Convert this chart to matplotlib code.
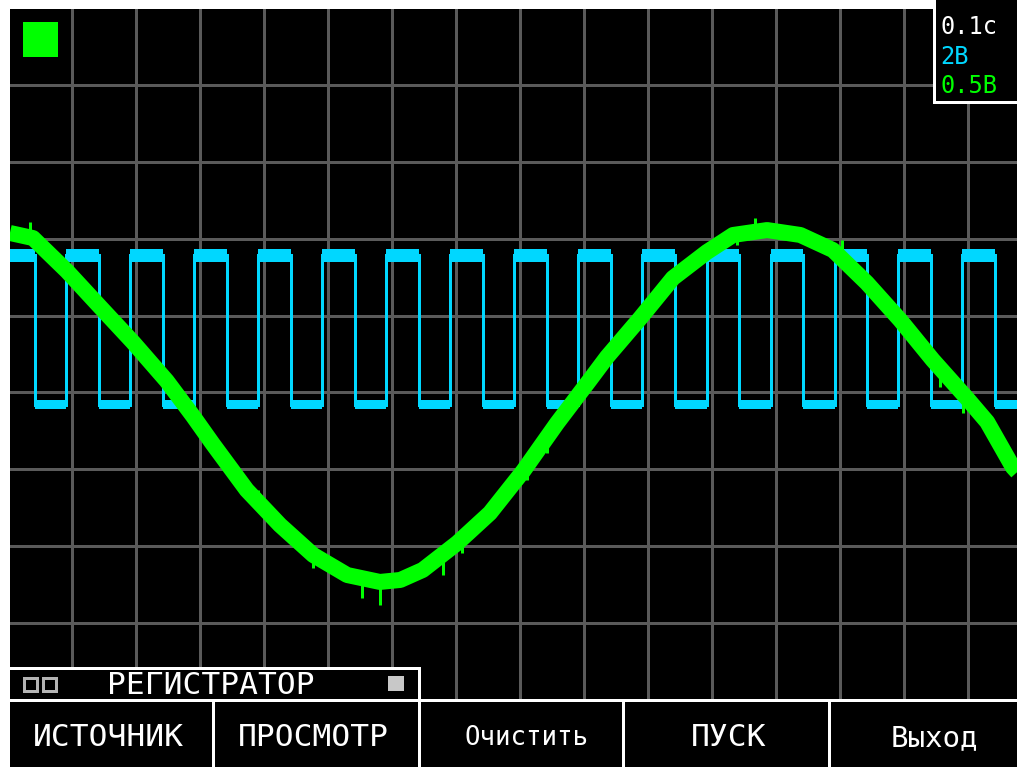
import matplotlib
matplotlib.use("Agg")
import matplotlib.pyplot as plt
from matplotlib.patches import Rectangle
import numpy as np

plt.rcParams.update({
    "font.family": "DejaVu Sans Mono",
    "savefig.facecolor": "white",
})

# --- data (time in s, channel values in volts) ---
green_t = [-0.097, -0.061, -0.008, 0.044, 0.095, 0.148, 0.189, 0.220, 0.273,
           0.325, 0.377, 0.430, 0.481, 0.513, 0.548, 0.602, 0.653, 0.705,
           0.758, 0.783, 0.809, 0.836, 0.888, 0.939, 0.992, 1.033, 1.086,
           1.138, 1.189, 1.242, 1.294, 1.345, 1.398, 1.430, 1.470, 1.477]
green_v = [1.112, 1.079, 0.865, 0.631, 0.403, 0.150, -0.078, -0.260, -0.559,
           -0.787, -0.982, -1.112, -1.157, -1.144, -1.079, -0.904, -0.709, -0.436,
           -0.124, 0.013, 0.156, 0.306, 0.559, 0.819, 0.988, 1.099, 1.131,
           1.099, 1.001, 0.787, 0.546, 0.286, 0.039, -0.117, -0.410, -0.442]

# noise spikes sticking out of the green trace
spike_t = [-0.066, 0.291, 0.377, 0.453, 0.481, 0.580, 0.609, 0.711, 0.742,
           0.914, 1.039, 1.067, 1.203, 1.356, 1.392]
spike_v = [1.183, -0.559, -1.066, -1.261, -1.307, -1.112, -0.969, -0.494, -0.319,
           0.631, 1.034, 1.209, 1.066, 0.111, -0.059]

# square wave edges (cyan channel)
cyan_fall = [-0.058, 0.042, 0.142, 0.242, 0.342, 0.442, 0.542, 0.642,
             0.742, 0.842, 0.942, 1.042, 1.142, 1.242, 1.342, 1.442]
cyan_rise = [-0.009, 0.091, 0.191, 0.291, 0.391, 0.491, 0.591, 0.691,
             0.791, 0.891, 0.992, 1.092, 1.192, 1.291, 1.391]
cyan_high = (3.70, 4.03)   # noisy band of the high level
cyan_low = (-0.13, 0.10)   # noisy band of the low level

time_div = "0.1с"
cyan_div = "2В"
green_div = "0.5В"
mode_title = "РЕГИСТРАТОР"
buttons = ["ИСТОЧНИК", "ПРОСМОТР", "Очистить", "ПУСК", "Выход"]

CYAN = "#00d7ff"
GREEN = "#00ff00"
GRID = "#5a5a5a"

W, H = 1017, 767
PX = 0.72  # points per pixel at 100 dpi


def frac(x0, y0, x1, y1):
    return [x0 / W, 1 - y1 / H, (x1 - x0) / W, (y1 - y0) / H]


fig = plt.figure(figsize=(W / 100, H / 100), dpi=100, facecolor="white")

# screen grid, y in divisions
ax = fig.add_axes(frac(10, 9, 1017, 700))
ax.set_facecolor("black")
ax.set_xlim(-62 / 640, 945 / 640)
ydiv_max = 691 / 76.9
ax.set_ylim(0, ydiv_max)
ax.set_xticks(np.arange(0, 1.45, 0.1))
ax.set_yticks(np.arange(1, 9))
ax.grid(True, color=GRID, lw=3 * PX)
ax.set_axisbelow(True)
ax.tick_params(length=0, labelbottom=False, labelleft=False)
for s in ax.spines.values():
    s.set_visible(False)

zero_div = (700 - 404) / 76.9


def channel_axes(volts_per_div):
    a = ax.twinx()
    a.set_ylim(-zero_div * volts_per_div, (ydiv_max - zero_div) * volts_per_div)
    a.axis("off")
    return a


# cyan channel: 2 V/div
ax_c = channel_axes(2.0)
x0, x1 = ax.get_xlim()
edges = sorted([(t, 0) for t in cyan_fall] + [(t, 1) for t in cyan_rise])
hi_mid = sum(cyan_high) / 2
lo_mid = sum(cyan_low) / 2
level = hi_mid
xs, ys = [x0], [level]
bounds = [x0]
for t, up in edges:
    new = hi_mid if up else lo_mid
    xs += [t, t]
    ys += [level, new]
    level = new
    bounds.append(t)
xs.append(x1)
ys.append(level)
bounds.append(x1)
ax_c.plot(xs, ys, color=CYAN, lw=3 * PX, solid_joinstyle="miter")
high = True
for a, b in zip(bounds[:-1], bounds[1:]):
    band = cyan_high if high else cyan_low
    ax_c.fill_between([a, b], band[0], band[1], color=CYAN, lw=0)
    high = not high

# green channel: 0.5 V/div
ax_g = channel_axes(0.5)
ax_g.plot(green_t, green_v, color=GREEN, lw=16 * PX,
          solid_capstyle="butt", solid_joinstyle="round")
base = np.interp(spike_t, green_t, green_v)
ax_g.vlines(spike_t, base, spike_v, color=GREEN, lw=3 * PX)

# overlay with the on-screen menu, in pixel coordinates
ui = fig.add_axes([0, 0, 1, 1])
ui.set_xlim(0, W)
ui.set_ylim(H, 0)
ui.axis("off")

ui.add_patch(Rectangle((23, 22), 35, 35, fc=GREEN, ec="none"))

# scale info box
ui.add_patch(Rectangle((934, -10), 100, 112, fc="black", ec="white", lw=3 * PX))
ui.text(940, 27, time_div, color="white", fontsize=17, va="center", ha="left")
ui.text(940, 57, cyan_div, color=CYAN, fontsize=17, va="center", ha="left")
ui.text(940, 86, green_div, color=GREEN, fontsize=17, va="center", ha="left")

# mode bar
ui.add_patch(Rectangle((8, 668), 411, 32, fc="black", ec="white", lw=3 * PX))
for sx in (23, 42):
    ui.add_patch(Rectangle((sx + 1, 678), 13, 13, fc="none", ec="#b4b4b4", lw=3 * PX))
ui.add_patch(Rectangle((388, 676), 16, 15, fc="#c8c8c8", ec="none"))
ui.text(211, 685, mode_title, color="white", fontsize=22.5, ha="center", va="center")

# button row
ui.add_patch(Rectangle((10, 700), 1010, 70, fc="black", ec="none"))
ui.plot([8, W], [700, 700], color="white", lw=3 * PX)
for sep in (213, 419, 623, 829):
    ui.plot([sep, sep], [700, H], color="white", lw=3 * PX)
centers = [108, 313, 526, 729, 934]
sizes = [22.5, 22.5, 18.5, 22.5, 21]
for label, cx, fs in zip(buttons, centers, sizes):
    ui.text(cx, 738, label, color="white", fontsize=fs, ha="center", va="center")

fig.savefig("out.png", dpi=100)
